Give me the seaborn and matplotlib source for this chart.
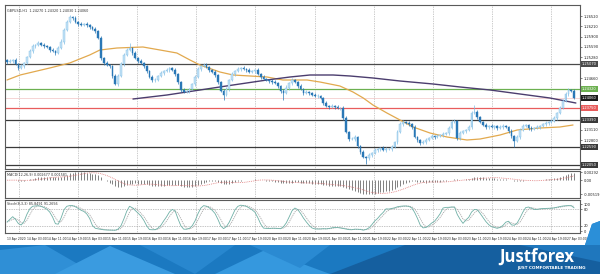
import numpy as np
import pandas as pd
import matplotlib
matplotlib.use("Agg")
import matplotlib.pyplot as plt
import seaborn as sns
from matplotlib.patches import Polygon

sns.set_style("white")
plt.rcParams["font.family"] = ["DejaVu Sans"]

# ---------------- data ----------------
symbol = "GBPUSD,H1"
first_open = 1.2520
close = [
    1.2514, 1.2517, 1.2520, 1.2508, 1.2496, 1.2502, 1.2511, 1.2529, 1.2547, 1.2562,
    1.2565, 1.2571, 1.2565, 1.2562, 1.2559, 1.2550, 1.2547, 1.2541, 1.2556, 1.2574,
    1.2610, 1.2634, 1.2649, 1.2646, 1.2634, 1.2628, 1.2625, 1.2628, 1.2625, 1.2619,
    1.2613, 1.2607, 1.2586, 1.2526, 1.2511, 1.2505, 1.2502, 1.2472, 1.2448, 1.2472,
    1.2508, 1.2535, 1.2550, 1.2556, 1.2541, 1.2526, 1.2517, 1.2511, 1.2502, 1.2487,
    1.2469, 1.2460, 1.2460, 1.2472, 1.2481, 1.2487, 1.2490, 1.2496, 1.2490, 1.2478,
    1.2454, 1.2430, 1.2424, 1.2427, 1.2433, 1.2448, 1.2469, 1.2493, 1.2502, 1.2505,
    1.2499, 1.2490, 1.2484, 1.2475, 1.2454, 1.2427, 1.2415, 1.2433, 1.2460, 1.2478,
    1.2487, 1.2493, 1.2496, 1.2493, 1.2490, 1.2484, 1.2487, 1.2490, 1.2478, 1.2469,
    1.2463, 1.2460, 1.2457, 1.2454, 1.2451, 1.2442, 1.2427, 1.2421, 1.2436, 1.2451,
    1.2460, 1.2454, 1.2442, 1.2433, 1.2421, 1.2424, 1.2421, 1.2415, 1.2412, 1.2412,
    1.2406, 1.2391, 1.2382, 1.2379, 1.2382, 1.2379, 1.2376, 1.2376, 1.2346, 1.2304,
    1.2283, 1.2283, 1.2289, 1.2262, 1.2244, 1.2229, 1.2226, 1.2235, 1.2241, 1.2250,
    1.2253, 1.2256, 1.2250, 1.2253, 1.2253, 1.2259, 1.2274, 1.2304, 1.2328, 1.2334,
    1.2331, 1.2328, 1.2319, 1.2289, 1.2280, 1.2271, 1.2274, 1.2280, 1.2286, 1.2292,
    1.2289, 1.2292, 1.2295, 1.2298, 1.2301, 1.2316, 1.2334, 1.2337, 1.2286, 1.2301,
    1.2307, 1.2310, 1.2319, 1.2361, 1.2364, 1.2349, 1.2334, 1.2325, 1.2319, 1.2322,
    1.2319, 1.2322, 1.2316, 1.2319, 1.2322, 1.2319, 1.2307, 1.2292, 1.2277, 1.2289,
    1.2310, 1.2322, 1.2325, 1.2316, 1.2313, 1.2316, 1.2319, 1.2322, 1.2328, 1.2331,
    1.2334, 1.2337, 1.2346, 1.2361, 1.2376, 1.2397, 1.2418, 1.2430, 1.2427, 1.2406,
]
# wick lengths in pips (0.0001)
wick_up = [
    4, 5, 3, 6, 4, 5, 3, 4, 6, 5, 4, 6, 3, 5, 4, 3, 5, 4, 6, 8,
    6, 5, 6, 4, 5, 3, 6, 4, 5, 3, 4, 5, 3, 6, 4, 5, 3, 4, 6, 5,
    5, 7, 6, 15, 4, 5, 3, 6, 4, 3, 4, 5, 6, 3, 5, 4, 6, 3, 4, 5,
    3, 4, 5, 6, 4, 3, 5, 6, 4, 5, 6, 3, 4, 5, 4, 3, 5, 6, 4, 5,
    3, 5, 4, 6, 3, 5, 4, 3, 6, 4, 5, 4, 3, 5, 6, 4, 3, 5, 8, 4,
    5, 4, 3, 6, 4, 5, 3, 4, 5, 6, 4, 3, 5, 4, 6, 3, 5, 4, 5, 6,
    4, 5, 6, 3, 4, 5, 4, 6, 3, 5, 4, 3, 5, 6, 4, 5, 3, 6, 7, 5,
    4, 6, 3, 5, 4, 3, 5, 6, 4, 5, 3, 5, 4, 6, 3, 5, 7, 6, 4, 5,
    3, 4, 5, 6, 21, 5, 4, 3, 6, 4, 5, 3, 4, 6, 5, 4, 3, 5, 4, 6,
    5, 6, 4, 3, 5, 4, 6, 3, 4, 5, 4, 5, 6, 4, 5, 6, 5, 6, 4, 5,
]
wick_dn = [
    5, 4, 6, 3, 6, 4, 5, 3, 4, 5, 6, 3, 4, 5, 3, 6, 4, 5, 3, 4,
    5, 3, 4, 6, 4, 5, 3, 4, 6, 5, 4, 5, 3, 6, 5, 4, 6, 5, 4, 5,
    3, 5, 4, 4, 6, 3, 5, 4, 6, 5, 4, 6, 5, 3, 4, 5, 3, 6, 4, 5,
    6, 5, 4, 3, 5, 4, 6, 3, 5, 4, 3, 5, 4, 6, 5, 4, 15, 3, 5, 4,
    5, 3, 6, 4, 5, 3, 4, 6, 3, 5, 4, 3, 5, 6, 4, 5, 6, 20, 4, 5,
    6, 4, 5, 3, 6, 4, 5, 3, 4, 5, 3, 5, 4, 6, 3, 5, 4, 6, 5, 4,
    6, 4, 5, 6, 5, 4, 18, 5, 6, 4, 5, 6, 4, 5, 3, 6, 4, 5, 3, 5,
    4, 5, 6, 3, 5, 6, 4, 5, 3, 4, 5, 4, 3, 6, 4, 5, 3, 4, 6, 5,
    4, 5, 3, 6, 4, 5, 3, 4, 5, 6, 4, 5, 6, 3, 5, 4, 6, 5, 18, 4,
    5, 3, 4, 6, 5, 4, 3, 5, 4, 6, 5, 4, 3, 5, 4, 3, 4, 5, 4, 3,
]
# moving averages (bar index, price)
fast_ma_bar = [0, 4.6, 15, 22, 29, 32.6, 38.6, 47.7, 53.7, 59.6, 64.2, 67.7, 74.7, 79.3,
               85.3, 91.2, 96.8, 105.3, 109.8, 116.8, 121.4, 125, 128.4, 133.3, 137.9,
               142.5, 148.4, 154.4, 161.4, 166, 173, 179, 187, 194, 198.6]
fast_ma_val = [1.2460, 1.2475, 1.2496, 1.2511, 1.2535, 1.2550, 1.2556, 1.2559, 1.2550,
               1.2541, 1.2520, 1.2505, 1.2484, 1.2475, 1.2472, 1.2469, 1.2460, 1.2460,
               1.2454, 1.2442, 1.2424, 1.2406, 1.2385, 1.2361, 1.2340, 1.2319, 1.2301,
               1.2289, 1.2280, 1.2283, 1.2295, 1.2310, 1.2316, 1.2319, 1.2325]
slow_ma_bar = [44.2, 56.1, 67.7, 79.3, 91.2, 99.3, 106.3, 114.4, 120.4, 128.4, 137.9,
               149.5, 159, 169.5, 180, 190.5, 199.6]
slow_ma_val = [1.2403, 1.2415, 1.2430, 1.2445, 1.2460, 1.2469, 1.2475, 1.2475, 1.2472,
               1.2466, 1.2457, 1.2448, 1.2439, 1.2430, 1.2418, 1.2406, 1.2391]
level_prices = [1.2507, 1.2432, 1.2375, 1.2339, 1.2259, 1.2205]
level_colors = ["#4a4a4a", "#6cb050", "#e85c5c", "#3a3a3a", "#3a3a3a", "#3a3a3a"]
price_ticks = [1.2652, 1.2621, 1.2590, 1.2559, 1.2528, 1.2497, 1.2466, 1.2435,
               1.2404, 1.2373, 1.2342, 1.2311, 1.2280, 1.2249, 1.2218]
date_labels = ["13 Apr 2020", "14 Apr 03:00", "14 Apr 11:00", "14 Apr 19:00",
               "15 Apr 03:00", "15 Apr 11:00", "15 Apr 19:00", "16 Apr 03:00",
               "16 Apr 11:00", "16 Apr 19:00", "17 Apr 03:00", "17 Apr 11:00",
               "17 Apr 19:00", "20 Apr 03:00", "20 Apr 11:00", "20 Apr 19:00",
               "21 Apr 03:00", "21 Apr 11:00", "21 Apr 19:00", "22 Apr 03:00",
               "22 Apr 11:00", "22 Apr 19:00", "23 Apr 03:00", "23 Apr 11:00",
               "23 Apr 19:00", "24 Apr 03:00", "24 Apr 11:00", "24 Apr 19:00",
               "27 Apr 03:00"]
stoch_k, stoch_slow, stoch_d = 8, 3, 3

# ---------------- derived ----------------
closes = np.array(close)
opens = np.concatenate([[first_open], closes[:-1]])
highs = np.maximum(opens, closes) + np.array(wick_up) * 1e-4
lows = np.minimum(opens, closes) - np.array(wick_dn) * 1e-4
idx = np.arange(len(closes))
s = pd.Series(closes)
macd = s.ewm(span=12, adjust=False).mean() - s.ewm(span=26, adjust=False).mean()
signal = macd.rolling(9, min_periods=1).mean()
hh = pd.Series(highs).rolling(stoch_k, min_periods=1).max()
ll = pd.Series(lows).rolling(stoch_k, min_periods=1).min()
k_line = 100 * (s - ll).rolling(stoch_slow, min_periods=1).sum() / \
    (hh - ll).rolling(stoch_slow, min_periods=1).sum()
d_line = k_line.rolling(stoch_d, min_periods=1).mean()

# ---------------- layout ----------------
W, H = 600, 274
fig = plt.figure(figsize=(6, 2.74), dpi=100)
fig.patch.set_facecolor("white")


def rect(x0, y0, x1, y1):
    return [x0 / W, 1 - y1 / H, (x1 - x0) / W, (y1 - y0) / H]


ax = fig.add_axes(rect(5, 5, 580, 169))
axm = fig.add_axes(rect(5, 171, 580, 198))
axs = fig.add_axes(rect(5, 200, 580, 233))
XL = (-0.70, 201.05)
grid_x = [(12 + 59.1 * m) / 2.85 for m in range(10)]

for a in (ax, axm, axs):
    a.set_xlim(*XL)
    a.set_facecolor("white")
    for sp in a.spines.values():
        sp.set_color("#5a5a5a")
        sp.set_linewidth(0.8)
    for gx in grid_x:
        a.axvline(gx, color="#9a9a9a", lw=0.5, ls=(0, (1, 1.5)), zorder=0)
    a.yaxis.tick_right()
    a.tick_params(axis="y", labelsize=2.6, length=1.5, width=0.4, pad=1, colors="#222222")

# ---- main pane ----
ax.set_ylim(1.2193, 1.2685)
for p, c in zip(level_prices, level_colors):
    ax.axhline(p, color=c, lw=0.9, zorder=1)
ax.axhline(closes[-1], color="#f2c4c4", lw=0.5, zorder=1)

bull = closes >= opens
wick_colors = np.where(bull, "#80bde4", "#2a78b6")
ax.vlines(idx, lows, highs, colors=wick_colors, linewidth=0.5, zorder=3)
body_h = np.maximum(np.abs(closes - opens), 0.00004)
body_b = np.minimum(opens, closes)
ax.bar(idx[bull], body_h[bull], bottom=body_b[bull], width=0.62, color="#c4e2f6",
       edgecolor="#80bde4", linewidth=0.3, zorder=4)
ax.bar(idx[~bull], body_h[~bull], bottom=body_b[~bull], width=0.62, color="#2a78b6",
       edgecolor="#2a78b6", linewidth=0.3, zorder=4)

sns.lineplot(x=fast_ma_bar, y=fast_ma_val, ax=ax, color="#e2a94e", linewidth=0.9, zorder=2)
sns.lineplot(x=slow_ma_bar, y=slow_ma_val, ax=ax, color="#4b3d6e", linewidth=1.0, zorder=2)

box_specs = list(zip(level_prices, level_colors)) + [(closes[-1], "#1a1a1a")]
box_prices = [p for p, _ in box_specs]
shown_ticks = [t for t in price_ticks if min(abs(t - b) for b in box_prices) > 0.0019]
ax.set_yticks(shown_ticks)
ax.set_yticklabels([f"{p:.5f}" for p in shown_ticks])
ax.set_xticks([])
ax.set_xlabel("")
ax.set_ylabel("")

for p, c in box_specs:
    ax.text(1.003, p, f"{p:.5f}", transform=ax.get_yaxis_transform(), ha="left", va="center",
            fontsize=2.6, color="white", clip_on=False, zorder=10,
            bbox=dict(boxstyle="square,pad=0.3", fc=c, ec="none"))

ax.text(0.004, 0.975, f"{symbol}  {opens[-1]:.5f} {highs[-1]:.5f} {lows[-1]:.5f} {closes[-1]:.5f}",
        transform=ax.transAxes, fontsize=2.4, color="#333333", ha="left", va="top")

# ---- MACD pane ----
axm.vlines(idx, 0, macd, colors="#808080", linewidth=0.7, zorder=2)
axm.plot(idx, signal, color="#e07a7a", lw=0.6, ls=(0, (1, 1.2)), zorder=3)
mtop, mbot = macd.max(), macd.min()
axm.set_ylim(mbot * 1.25, mtop * 1.15)
axm.set_yticks([mtop, 0, mbot])
axm.set_yticklabels([f"{mtop:.5f}", "0.00", f"{mbot:.5f}"])
axm.set_xticks([])
axm.text(0.004, 0.93, f"MACD(12,26,9) {macd.iloc[-1]:.6f} {signal.iloc[-1]:.6f}",
         transform=axm.transAxes, fontsize=2.4, color="#333333", ha="left", va="top")

# ---- Stochastic pane ----
axs.set_ylim(-7, 115)
for lv in (20, 80):
    axs.axhline(lv, color="#8a8a8a", lw=0.5, ls=(0, (1, 1.5)), zorder=1)
sns.lineplot(x=idx, y=k_line.values, ax=axs, color="#6fb0a6", linewidth=0.6, zorder=3)
sns.lineplot(x=idx, y=d_line.values, ax=axs, color="#a8a8a8", linewidth=0.6, zorder=2,
             linestyle=(0, (1.5, 1)))
axs.set_yticks([0, 20, 80, 100])
axs.set_yticklabels(["0", "20", "80", "100"])
axs.set_ylabel("")
date_pos = [k * 20 / 2.85 for k in range(len(date_labels))]
axs.set_xticks(date_pos)
axs.set_xticklabels(date_labels, ha="left")
axs.tick_params(axis="x", labelsize=2.2, length=1.5, width=0.4, pad=1.2, colors="#222222")
axs.text(0.004, 0.95, f"Stoch({stoch_k},{stoch_slow},{stoch_d}) {k_line.iloc[-1]:.4f} {d_line.iloc[-1]:.4f}",
         transform=axs.transAxes, fontsize=2.4, color="#333333", ha="left", va="top")

# ---- banner ----
axb = fig.add_axes([0, 0, 1, 56 / H])
axb.set_xlim(0, 600)
axb.set_ylim(274, 218)
axb.axis("off")
axb.patch.set_alpha(0)
shapes = [
    ([(0, 245), (585, 245), (592, 224), (600, 221), (600, 274), (0, 274)], "#1b79c1"),
    ([(0, 250), (45, 245), (95, 274), (0, 274)], "#2f8fd6"),
    ([(55, 274), (110, 246), (175, 274)], "#3a9be0"),
    ([(140, 245), (235, 245), (195, 274)], "#2887cf"),
    ([(215, 274), (265, 250), (330, 274)], "#3598de"),
    ([(250, 245), (330, 245), (300, 268)], "#2a8ad2"),
    ([(330, 274), (405, 245), (600, 245), (600, 274)], "#155f9f"),
    ([(520, 245), (592, 245), (600, 236), (600, 262)], "#1f77bd"),
    ([(585, 245), (592, 224), (600, 221), (600, 245)], "#2b8fd8"),
]
for pts, col in shapes:
    axb.add_patch(Polygon(pts, closed=True, facecolor=col, edgecolor="none"))
axb.text(537, 257, "Justforex", color="white", fontsize=12, fontweight="bold",
         family=["Open Sans", "DejaVu Sans"], ha="center", va="center")
axb.text(551, 268.5, "JUST COMFORTABLE TRADING", color="white", fontsize=3.0,
         fontweight="bold", ha="center", va="center")

fig.savefig("out.png", dpi=100, facecolor="white")
